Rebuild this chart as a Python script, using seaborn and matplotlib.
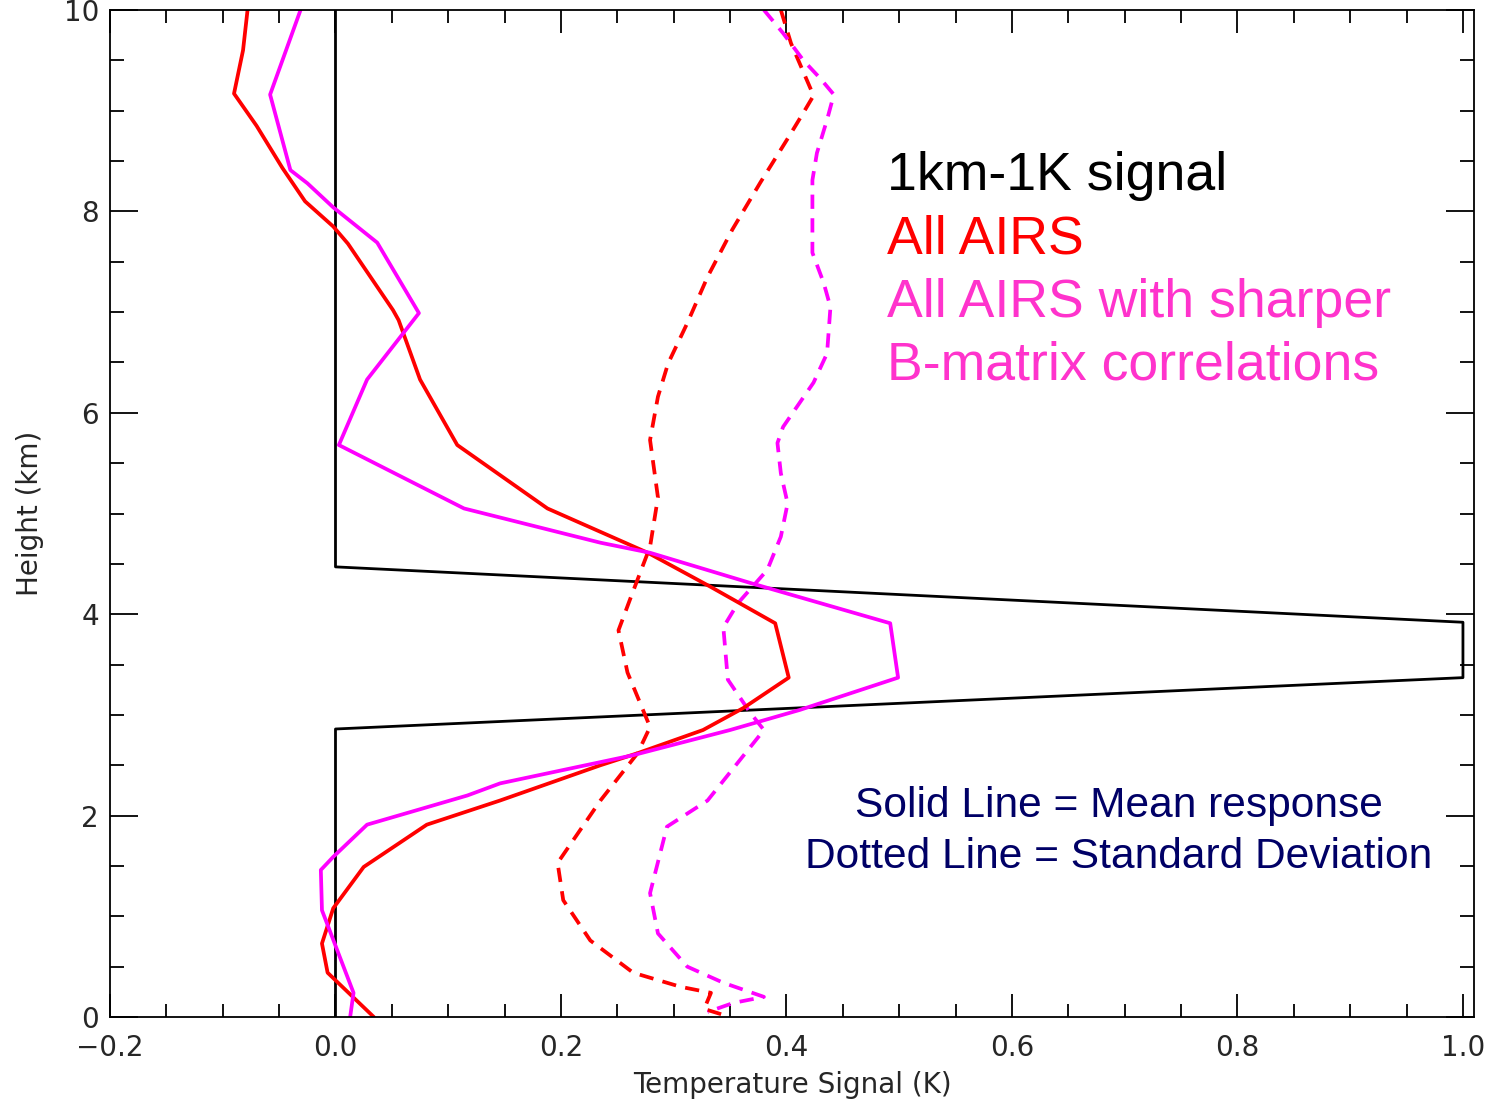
import matplotlib
matplotlib.use("Agg")
import matplotlib.pyplot as plt
from matplotlib.ticker import MultipleLocator
import seaborn as sns
import pandas as pd

# ---- data ----
signal_x = [0.0, 0.0, 1.0, 1.0, 0.0, 0.0]
signal_y = [10.0, 4.47, 3.92, 3.37, 2.86, 0.0]

airs_mean_x = [-0.078, -0.082, -0.090, -0.070, -0.047, -0.027, -0.002, 0.011, 0.051, 0.056,
               0.075, 0.108, 0.188, 0.277, 0.333, 0.390, 0.402, 0.362, 0.326, 0.268,
               0.235, 0.146, 0.081, 0.025, -0.002, -0.012, -0.007, 0.034]
airs_mean_y = [10.0, 9.60, 9.17, 8.85, 8.43, 8.10, 7.85, 7.68, 7.02, 6.92,
               6.33, 5.68, 5.05, 4.61, 4.27, 3.91, 3.37, 3.07, 2.85, 2.62,
               2.50, 2.15, 1.91, 1.49, 1.08, 0.73, 0.44, 0.0]

sharp_mean_x = [-0.031, -0.058, -0.040, -0.025, -0.002, 0.037, 0.074, 0.028, 0.003, 0.114,
                0.235, 0.279, 0.368, 0.492, 0.499, 0.412, 0.350, 0.264, 0.146, 0.117,
                0.028, -0.002, -0.013, -0.012, 0.016, 0.013]
sharp_mean_y = [10.0, 9.16, 8.41, 8.28, 8.04, 7.69, 6.99, 6.33, 5.68, 5.05,
                4.71, 4.61, 4.31, 3.91, 3.37, 3.05, 2.85, 2.60, 2.32, 2.20,
                1.91, 1.59, 1.46, 1.06, 0.24, 0.0]

airs_std_x = [0.395, 0.404, 0.424, 0.415, 0.402, 0.377, 0.352, 0.330, 0.312, 0.295,
              0.286, 0.279, 0.286, 0.279, 0.262, 0.251, 0.259, 0.279, 0.268, 0.235,
              0.197, 0.202, 0.226, 0.264, 0.306, 0.333, 0.327, 0.350]
airs_std_y = [10.0, 9.67, 9.15, 8.98, 8.74, 8.29, 7.82, 7.35, 6.89, 6.49,
              6.16, 5.73, 5.16, 4.67, 4.17, 3.84, 3.42, 2.88, 2.62, 2.15,
              1.53, 1.16, 0.76, 0.44, 0.30, 0.24, 0.08, 0.0]

sharp_std_x = [0.380, 0.397, 0.415, 0.430, 0.442, 0.436, 0.427, 0.423, 0.423, 0.433,
               0.439, 0.436, 0.424, 0.397, 0.392, 0.395, 0.401, 0.395, 0.383, 0.357,
               0.344, 0.348, 0.368, 0.380, 0.330, 0.294, 0.279, 0.286, 0.312, 0.344,
               0.380, 0.353, 0.330]
sharp_std_y = [10.0, 9.77, 9.50, 9.32, 9.16, 8.91, 8.58, 8.31, 7.59, 7.29,
               7.05, 6.59, 6.30, 5.86, 5.70, 5.40, 5.10, 4.77, 4.44, 4.11,
               3.87, 3.35, 3.02, 2.85, 2.15, 1.89, 1.23, 0.83, 0.50, 0.34,
               0.20, 0.14, 0.05]

x_label = "Temperature Signal (K)"
y_label = "Height (km)"
legend_lines = [("1km-1K signal", "#000000"), ("All AIRS", "#FF0000"),
                ("All AIRS with sharper", "#FF33CC"), ("B-matrix correlations", "#FF33CC")]
note_lines = ["Solid Line = Mean response", "Dotted Line = Standard Deviation"]

# ---- style ----
sns.set_style("ticks")
plt.rcParams["font.family"] = ["DejaVu Sans"]

W, H = 1491, 1099
fig = plt.figure(figsize=(W / 100, H / 100), dpi=100)
ax = fig.add_axes([110 / W, 1 - 1017 / H, 1364 / W, 1007 / H])

RED = "#FF0000"
MAG = "#FF00FF"
LW = 2.7

sns.lineplot(x=signal_x, y=signal_y, sort=False, estimator=None, ax=ax,
             color="black", linewidth=2.0)
sns.lineplot(x=airs_std_x, y=airs_std_y, sort=False, estimator=None, ax=ax,
             color=RED, linewidth=LW)
sns.lineplot(x=sharp_std_x, y=sharp_std_y, sort=False, estimator=None, ax=ax,
             color=MAG, linewidth=LW)
sns.lineplot(x=airs_mean_x, y=airs_mean_y, sort=False, estimator=None, ax=ax,
             color=RED, linewidth=LW)
sns.lineplot(x=sharp_mean_x, y=sharp_mean_y, sort=False, estimator=None, ax=ax,
             color=MAG, linewidth=LW)

lines = ax.get_lines()
for ln in lines[1:3]:
    ln.set_dashes((3.8, 2.5))

ax.set_xlim(-0.2, 1.0098)
ax.set_ylim(0, 10)
ax.xaxis.set_major_locator(MultipleLocator(0.2))
ax.xaxis.set_minor_locator(MultipleLocator(0.05))
ax.yaxis.set_major_locator(MultipleLocator(2))
ax.yaxis.set_minor_locator(MultipleLocator(0.5))

for s in ax.spines.values():
    s.set_linewidth(1.3)
    s.set_color("black")

ax.tick_params(axis="both", which="both", direction="in", top=True, right=True,
               color="black", width=1.3)
ax.tick_params(axis="x", which="major", length=16.5, labelsize=20, pad=12)
ax.tick_params(axis="x", which="minor", length=9.4)
ax.tick_params(axis="y", which="major", length=20, labelsize=20, pad=8)
ax.tick_params(axis="y", which="minor", length=10)

ax.set_xlabel(x_label, fontsize=20, labelpad=7)
ax.set_ylabel(y_label, fontsize=20, labelpad=14)

# ---- annotations ----
base_y = [190, 253, 317, 380]
for (txt, col), by in zip(legend_lines, base_y):
    fig.text(887 / W, 1 - by / H, txt, color=col, fontsize=38.6,
             family="Liberation Sans", ha="left", va="baseline")

for txt, cy in zip(note_lines, [806, 857]):
    fig.text(1119 / W, 1 - cy / H, txt, color="#000066", fontsize=30.6,
             family="Liberation Sans", ha="center", va="center")

fig.savefig("out.png", dpi=100)
